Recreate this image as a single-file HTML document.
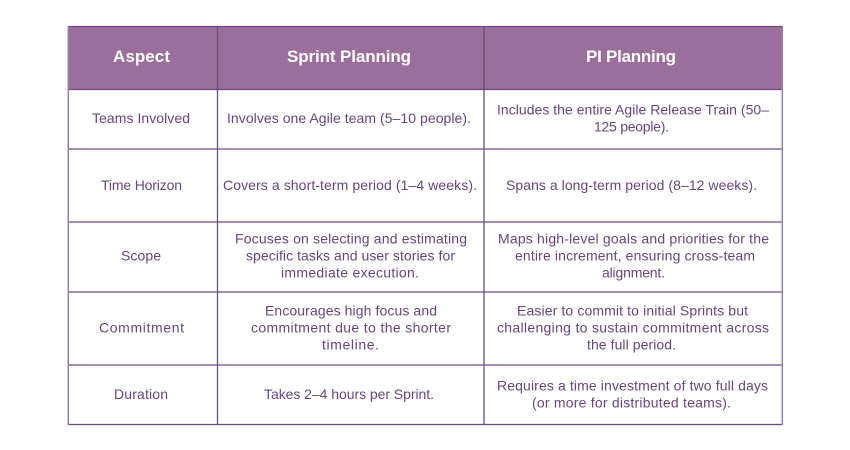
<!DOCTYPE html>
<html><head><meta charset="utf-8"><style>
html,body{margin:0;padding:0;background:#fff;width:850px;height:450px;overflow:hidden}
svg{display:block}
text{font-family:"Liberation Sans",sans-serif;font-size:14px;fill:#68467c}
.h{font-size:17px;font-weight:700;fill:#fff}
</style></head><body>
<svg width="850" height="450" viewBox="0 0 850 450" xmlns="http://www.w3.org/2000/svg">
<rect width="850" height="450" fill="#fff"/>
<rect x="68" y="26" width="714.5" height="63.5" fill="#9b6f9c"/>
<g stroke="#6f4a80" stroke-width="1.3" fill="none">
<path d="M68 26.5H782.5M68 89.5H782.5M68 149H782.5M68 222H782.5M68 292H782.5M68 365H782.5M68 424.5H782.5"/>
<path d="M217.5 26V425M484 26V425"/>
<path d="M68.3 26V425M782.3 26V425" stroke="#9b7ba8" stroke-width="1.5"/>
</g>
<text class="h" x="113" y="62" textLength="57">Aspect</text>
<text class="h" x="287" y="62" textLength="124">Sprint Planning</text>
<text class="h" x="586" y="62" textLength="90">PI Planning</text>

<text x="92" y="123" textLength="98">Teams Involved</text>
<text x="101" y="190" textLength="81">Time Horizon</text>
<text x="121" y="260.5" textLength="40">Scope</text>
<text x="99" y="332.5" textLength="85">Commitment</text>
<text x="114" y="399" textLength="54">Duration</text>

<text x="227" y="123" textLength="244">Involves one Agile team (5–10 people).</text>
<text x="223" y="190" textLength="254">Covers a short-term period (1–4 weeks).</text>
<text x="235" y="243.7" textLength="232">Focuses on selecting and estimating</text>
<text x="246" y="260.7" textLength="209">specific tasks and user stories for</text>
<text x="281" y="277.7" textLength="138">immediate execution.</text>
<text x="265" y="315.7" textLength="172">Encourages high focus and</text>
<text x="251" y="332.7" textLength="200">commitment due to the shorter</text>
<text x="322" y="349.7" textLength="57">timeline.</text>
<text x="264" y="399" textLength="170">Takes 2–4 hours per Sprint.</text>

<text x="497" y="114.5" textLength="272">Includes the entire Agile Release Train (50–</text>
<text x="594" y="131.5" textLength="75">125 people).</text>
<text x="506" y="190" textLength="251">Spans a long-term period (8–12 weeks).</text>
<text x="498" y="243.7" textLength="271">Maps high-level goals and priorities for the</text>
<text x="515" y="260.7" textLength="240">entire increment, ensuring cross-team</text>
<text x="602" y="277.7" textLength="63">alignment.</text>
<text x="517" y="315.7" textLength="231">Easier to commit to initial Sprints but</text>
<text x="497" y="332.7" textLength="272">challenging to sustain commitment across</text>
<text x="587" y="349.7" textLength="89">the full period.</text>
<text x="497" y="390.7" textLength="271">Requires a time investment of two full days</text>
<text x="532" y="407.7" textLength="199">(or more for distributed teams).</text>
</svg>
</body></html>
